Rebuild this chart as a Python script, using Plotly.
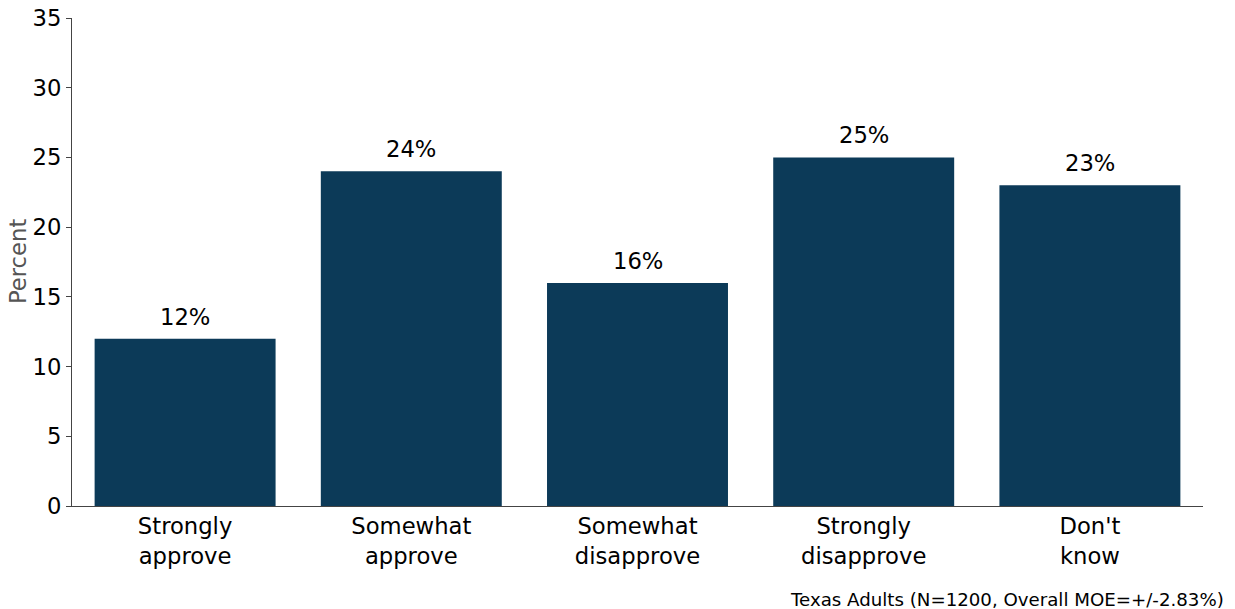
import plotly.graph_objects as go

categories = ["Strongly<br>approve", "Somewhat<br>approve", "Somewhat<br>disapprove", "Strongly<br>disapprove", "Don't<br>know"]
values = [12, 24, 16, 25, 23]
y_ticks = [0, 5, 10, 15, 20, 25, 30, 35]
y_title = "Percent"
note = "Texas Adults (N=1200, Overall MOE=+/-2.83%)"

FONT = "DejaVu Sans"
BAR = "#0c3a58"
FS = 22.7

fig = go.Figure()
fig.add_trace(go.Bar(x=categories, y=values, marker=dict(color=BAR, line=dict(width=0)), width=0.8))

for c, v in zip(categories, values):
    fig.add_annotation(x=c, y=v, text=f"{v}%", showarrow=False, yanchor="bottom", yshift=7,
                       font=dict(family=FONT, size=FS, color="black"))

fig.add_annotation(xref="paper", yref="paper", x=1.0205, y=-0.165, xanchor="right", yanchor="top",
                   text=note, showarrow=False, font=dict(family=FONT, size=18.2, color="black"))

fig.add_annotation(xref="paper", yref="paper", x=-0.0477, y=0.5, xanchor="center", yanchor="middle",
                   text=y_title, textangle=-90, showarrow=False,
                   font=dict(family=FONT, size=FS, color="#555"))

fig.update_layout(
    width=1235, height=609,
    margin=dict(l=72, r=32, t=18, b=103),
    plot_bgcolor="white", paper_bgcolor="white",
    showlegend=False,
    font=dict(family=FONT, size=FS, color="black"),
)
fig.update_xaxes(range=[-0.5, 4.5], showline=True, linecolor="#444", linewidth=1,
                 ticks="", tickfont=dict(size=FS, family=FONT), showgrid=False, automargin=False)
fig.update_yaxes(range=[0, 35], tickvals=y_ticks, showline=True, linecolor="#444", linewidth=1,
                 ticks="outside", ticklen=5, tickcolor="#444", showgrid=False, zeroline=False,
                 tickfont=dict(size=FS, family=FONT), automargin=False)

fig.write_html("out.html", config={"displayModeBar": False},
               post_script="document.body.style.margin='0';document.body.style.overflow='hidden';")
